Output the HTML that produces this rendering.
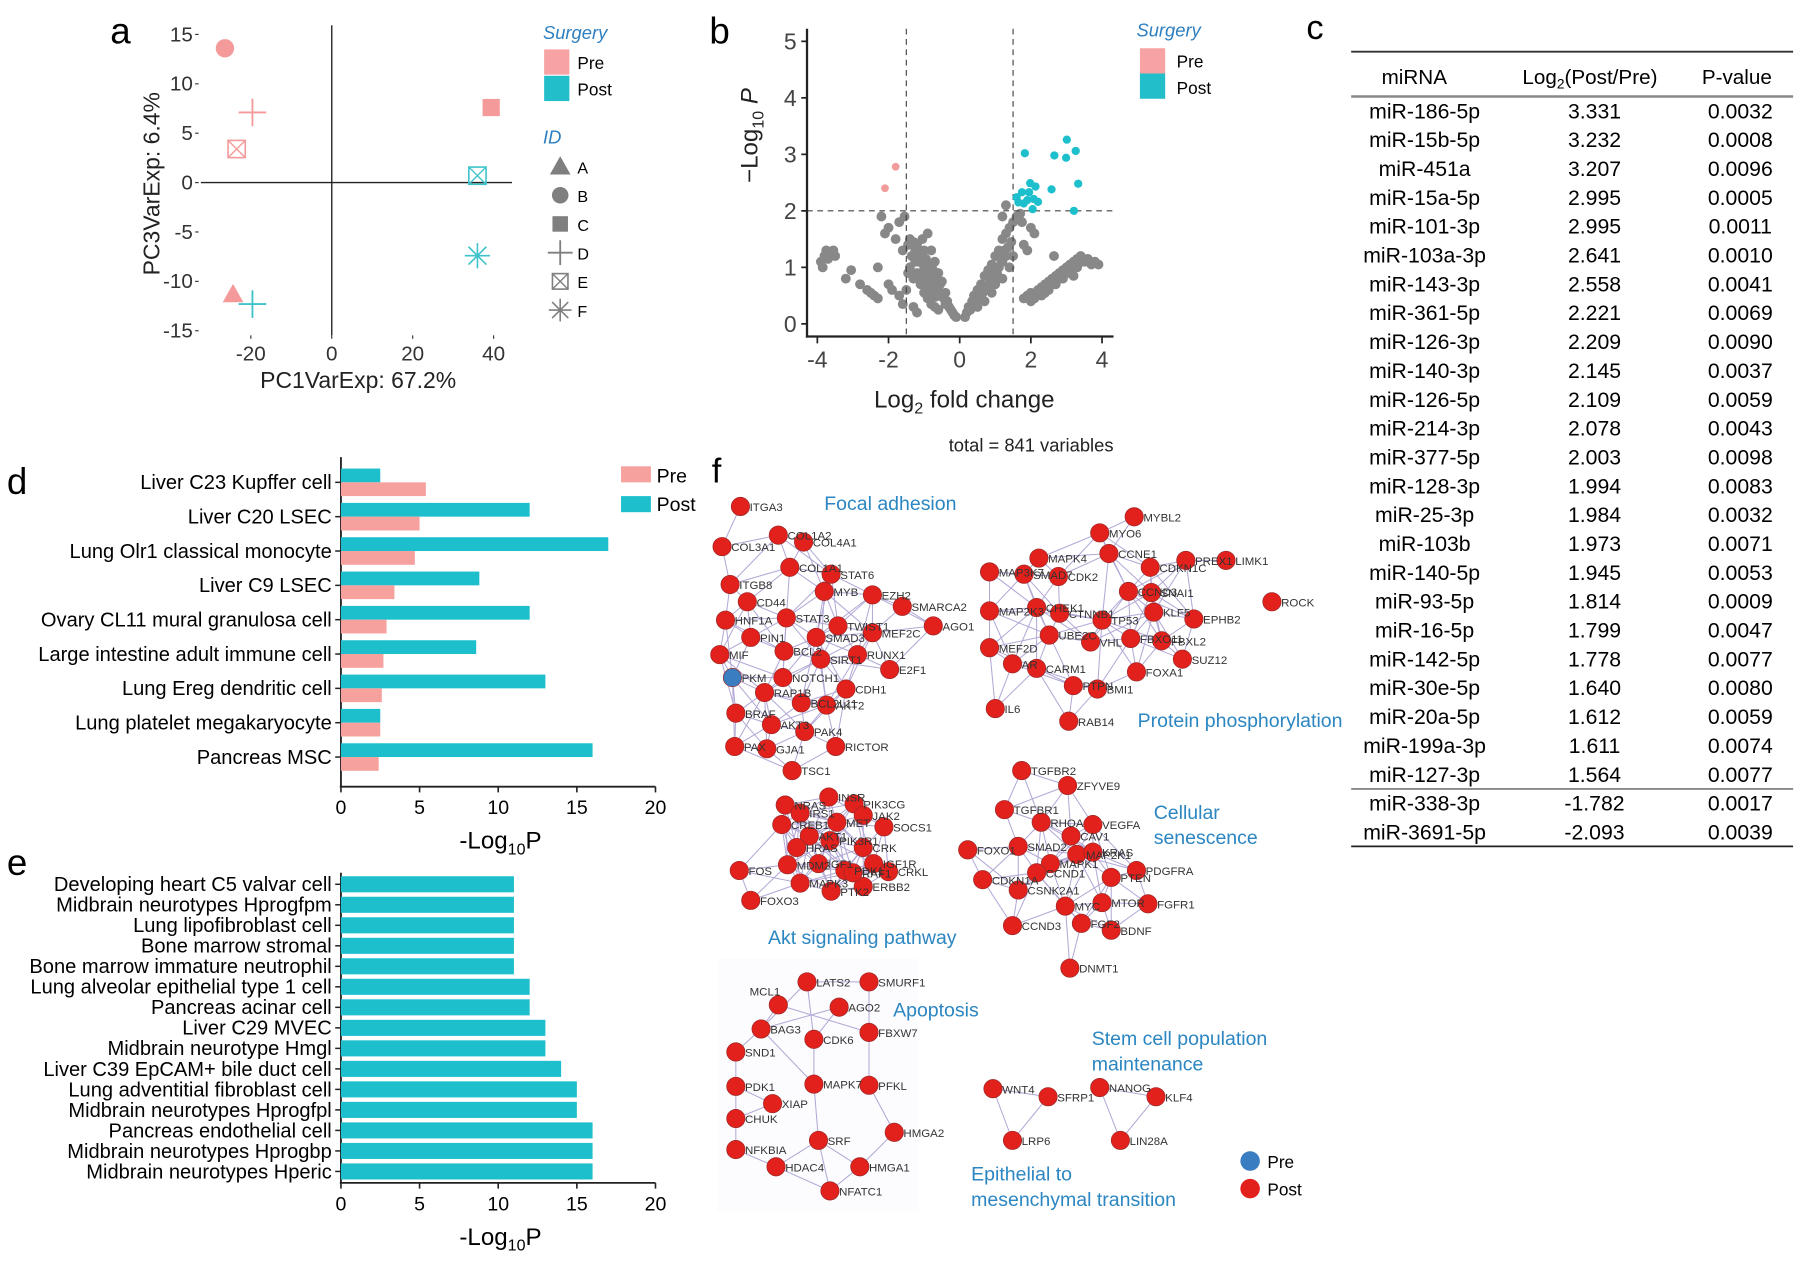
<!DOCTYPE html>
<html><head><meta charset="utf-8">
<style>
html,body{margin:0;padding:0;background:#fff;}
svg{display:block;font-family:"Liberation Sans",Arial,sans-serif;}
</style></head>
<body>
<svg id="fig" width="1800" height="1269" viewBox="0 0 1568 1105" preserveAspectRatio="none" xmlns="http://www.w3.org/2000/svg">
<rect width="1568" height="1105" fill="#fff"/>
<g id="pa"></g>
<g id="pb"></g>
<g id="pc"></g>
<g id="pd"></g>
<g id="pe"></g>
<g id="pf"></g>
</svg>
<script>
const NS="http://www.w3.org/2000/svg";
const PINK="#F6A19E",CYAN="#1DBFCD";
function mk(parent,tag,attrs,text){const e=document.createElementNS(NS,tag);for(const k in attrs)e.setAttribute(k,attrs[k]);if(text!==undefined)e.textContent=text;parent.appendChild(e);return e;}

// ---------- Panel a data ----------
const pcaX=[-26.4,-19.6,-23.5,39.4,36,36,-24.4,-19.6];
const pcaY=[13.6,7.1,3.4,7.6,0.7,-7.4,-11.3,-12.3];
const pcaGroup=["Pre","Pre","Pre","Pre","Post","Post","Pre","Post"];
const pcaShape=["B","D","E","C","E","F","A","D"];
const pcaXTicks=[-20,0,20,40];
const pcaYTicks=[15,10,5,0,-5,-10,-15];
// ---------- Panel b data ----------
const volGrayX=[-3.9,-3.85,-3.8,-3.75,-3.7,-3.6,-3.55,-3.5,-3.2,-3.05,-2.8,-2.6,-2.5,-2.4,-2.3,-2.3,-2.2,-2.1,-2.0,-2.0,-1.9,-1.8,-1.7,-1.7,-1.6,-1.6,-1.55,-1.5,-1.45,-1.3,-1.2,
-1.4,-1.3,-1.35,-1.25,-1.2,-1.15,-1.1,-1.05,-1.0,-1.0,-0.95,-0.9,-0.9,-0.85,-0.8,-0.8,-0.75,-0.7,-0.7,-0.65,-0.6,-0.6,-0.55,-0.5,-0.5,-0.45,-0.4,-0.4,-0.35,-0.3,-0.25,-0.2,-0.15,-0.1,-1.2,-1.1,-1.0,-0.9,-0.8,-0.7,-0.6,-1.3,-1.4,-1.45,
-1.15,-1.05,-0.95,-0.85,-0.75,-0.65,-0.55,-1.25,-1.1,-0.98,-0.88,-0.78,-0.68,
0.15,0.2,0.25,0.3,0.35,0.4,0.45,0.5,0.55,0.6,0.65,0.7,0.75,0.8,0.85,0.9,0.95,1.0,1.05,1.1,1.1,1.2,1.2,1.3,1.3,1.35,1.4,1.4,1.45,1.5,1.5,1.6,1.7,1.75,1.8,1.9,2.0,2.1,1.3,1.2,0.5,0.7,0.9,1.0,1.2,
0.6,0.8,0.95,1.05,1.15,0.7,0.85,1.25,
1.8,1.9,2.0,2.1,2.2,2.3,2.3,2.4,2.5,2.5,2.6,2.7,2.7,2.8,2.9,2.9,3.0,3.1,3.1,3.2,3.3,3.3,3.4,3.5,3.6,3.7,3.8,3.9,2.65,3.2,2.4,2.0,
2.55,2.75,2.95,3.15,3.35,3.55];
const volGrayY=[1.1,1.0,1.2,1.3,1.15,1.25,1.3,1.2,0.8,0.95,0.7,0.6,0.55,0.5,0.45,1.0,1.9,1.6,1.7,0.7,0.6,1.5,1.8,0.5,1.3,0.35,1.9,0.6,1.4,0.3,0.2,
1.5,1.45,1.2,1.3,1.4,1.1,1.25,1.5,1.3,1.0,1.15,1.6,0.9,1.05,1.3,0.8,0.95,0.7,1.1,0.8,0.6,0.9,0.7,0.5,0.75,0.45,0.55,0.35,0.4,0.3,0.25,0.2,0.15,0.12,0.9,0.7,0.55,0.45,0.35,0.3,0.25,0.8,1.0,0.9,
1.2,1.1,0.95,0.85,0.75,0.62,0.52,1.1,0.85,0.75,0.65,0.55,0.48,
0.12,0.2,0.3,0.25,0.4,0.5,0.35,0.6,0.45,0.7,0.55,0.85,0.6,0.95,0.75,1.05,0.8,1.2,0.9,1.3,1.0,1.5,1.1,1.6,1.2,1.35,1.7,1.0,1.45,1.8,1.2,1.9,1.95,1.8,1.4,1.3,1.7,1.6,2.1,1.9,0.3,0.4,0.55,0.7,0.8,
0.5,0.65,0.9,1.0,1.15,0.6,0.85,1.3,
0.45,0.5,0.55,0.45,0.6,0.5,0.65,0.7,0.6,0.75,0.8,0.7,0.85,0.9,0.8,0.95,1.0,0.9,1.05,1.1,1.0,1.15,1.2,1.1,1.15,1.05,1.1,1.05,1.2,0.85,0.55,0.4,
0.68,0.78,0.88,0.98,1.08,1.13];
const volPreX=[-2.1,-1.8];
const volPreY=[2.4,2.78];
const volPostX=[1.83,3.01,3.26,2.66,2.99,3.33,2.58,3.21,1.6,1.75,1.98,2.13,1.9,2.2,2.05,1.8,1.65,1.95,2.08];
const volPostY=[3.02,3.26,3.06,2.98,2.94,2.48,2.38,2.0,2.24,2.33,2.49,2.43,2.19,2.16,2.03,2.13,2.15,2.33,2.21];
const volXTicks=[-4,-2,0,2,4];
const volYTicks=[0,1,2,3,4,5];
// ---------- Panel c data ----------
const tblMirna=["miR-186-5p","miR-15b-5p","miR-451a","miR-15a-5p","miR-101-3p","miR-103a-3p","miR-143-3p","miR-361-5p","miR-126-3p","miR-140-3p","miR-126-5p","miR-214-3p","miR-377-5p","miR-128-3p","miR-25-3p","miR-103b","miR-140-5p","miR-93-5p","miR-16-5p","miR-142-5p","miR-30e-5p","miR-20a-5p","miR-199a-3p","miR-127-3p","miR-338-3p","miR-3691-5p"];
const tblLog=["3.331","3.232","3.207","2.995","2.995","2.641","2.558","2.221","2.209","2.145","2.109","2.078","2.003","1.994","1.984","1.973","1.945","1.814","1.799","1.778","1.640","1.612","1.611","1.564","-1.782","-2.093"];
const tblP=["0.0032","0.0008","0.0096","0.0005","0.0011","0.0010","0.0041","0.0069","0.0090","0.0037","0.0059","0.0043","0.0098","0.0083","0.0032","0.0071","0.0053","0.0009","0.0047","0.0077","0.0080","0.0059","0.0074","0.0077","0.0017","0.0039"];
// ---------- Panel d data ----------
const dCats=["Liver C23 Kupffer cell","Liver C20 LSEC","Lung Olr1 classical monocyte","Liver C9 LSEC","Ovary CL11 mural granulosa cell","Large intestine adult immune cell","Lung Ereg dendritic cell","Lung platelet megakaryocyte","Pancreas MSC"];
const dPost=[2.5,12,17,8.8,12,8.6,13,2.5,16];
const dPre=[5.4,5,4.7,3.4,2.9,2.7,2.6,2.5,2.4];
const barTicks=[0,5,10,15,20];
// ---------- Panel e data ----------
const eCats=["Developing heart C5 valvar cell","Midbrain neurotypes Hprogfpm","Lung lipofibroblast cell","Bone marrow stromal","Bone marrow immature neutrophil","Lung alveolar epithelial type 1 cell","Pancreas acinar cell","Liver C29 MVEC","Midbrain neurotype Hmgl","Liver C39 EpCAM+ bile duct cell","Lung adventitial fibroblast cell","Midbrain neurotypes Hprogfpl","Pancreas endothelial cell","Midbrain neurotypes Hprogbp","Midbrain neurotypes Hperic"];
const eVals=[11,11,11,11,11,12,12,13,13,14,15,15,16,16,16];

// ===== Panel a =====
(function(){
 const g=document.getElementById('pa');
 const sx=v=>289+v*3.525, sy=v=>159-v*8.6;
 mk(g,'text',{x:96,y:38,'font-size':32,},'a');
 mk(g,'line',{x1:175,y1:sy(0),x2:446,y2:sy(0),stroke:'#222','stroke-width':1.2,});
 mk(g,'line',{x1:sx(0),y1:22,x2:sx(0),y2:292,stroke:'#222','stroke-width':1.2,});
 pcaYTicks.forEach(t=>{mk(g,'text',{x:168,y:sy(t)+6,'font-size':18,'text-anchor':'end',fill:'#333',},t);
   mk(g,'line',{x1:170,x2:173,y1:sy(t),y2:sy(t),stroke:'#333',});});
 pcaXTicks.forEach(t=>{mk(g,'text',{x:sx(t),y:314,'font-size':18,'text-anchor':'middle',fill:'#333',},t);
   mk(g,'line',{x1:sx(t),x2:sx(t),y1:292,y2:295,stroke:'#333',});});
 mk(g,'text',{x:312,y:338,'font-size':20,'text-anchor':'middle',fill:'#222',},'PC1VarExp: 67.2%');
 mk(g,'text',{x:0,y:0,'font-size':20,'text-anchor':'middle',fill:'#222',transform:'translate(139,160) rotate(-90)',},'PC3VarExp: 6.4%');
 function shape(par,s,x,y,c,sz,nm){
  const gg=mk(par,'g',{});
  if(s==='A')mk(gg,'polygon',{points:`${x},${y-9} ${x+9},${y+7} ${x-9},${y+7}`,fill:c});
  if(s==='B')mk(gg,'circle',{cx:x,cy:y,r:sz*0.8,fill:c});
  if(s==='C')mk(gg,'rect',{x:x-sz*0.75,y:y-sz*0.75,width:sz*1.5,height:sz*1.5,fill:c});
  if(s==='D'){mk(gg,'line',{x1:x-sz*1.2,x2:x+sz*1.2,y1:y,y2:y,stroke:c,'stroke-width':1.6});mk(gg,'line',{x1:x,x2:x,y1:y-sz*1.2,y2:y+sz*1.2,stroke:c,'stroke-width':1.6});}
  if(s==='E'){const h=sz*0.75;mk(gg,'rect',{x:x-h,y:y-h,width:2*h,height:2*h,fill:'none',stroke:c,'stroke-width':1.4});mk(gg,'line',{x1:x-h,y1:y-h,x2:x+h,y2:y+h,stroke:c,'stroke-width':1.2});mk(gg,'line',{x1:x+h,y1:y-h,x2:x-h,y2:y+h,stroke:c,'stroke-width':1.2});}
  if(s==='F'){for(let k=0;k<4;k++){const a=k*Math.PI/4,r=sz*1.1;mk(gg,'line',{x1:x-r*Math.cos(a),y1:y-r*Math.sin(a),x2:x+r*Math.cos(a),y2:y+r*Math.sin(a),stroke:c,'stroke-width':1.4});}}
  return gg;
 }
 pcaX.forEach((v,i)=>{const c=pcaGroup[i]==='Pre'?'#F59A9A':'#3EC3CB';
   const p=shape(g,pcaShape[i],sx(v),sy(pcaY[i]),c,10,'pca-point');
   });
 mk(g,'text',{x:473,y:34,'font-size':16,'font-style':'italic',fill:'#2E7FC0',},'Surgery');
 mk(g,'rect',{x:474,y:43,width:22,height:22,fill:'#F8A3A3',});
 mk(g,'text',{x:503,y:60,'font-size':15,},'Pre');
 mk(g,'rect',{x:474,y:66,width:22,height:22,fill:'#22BFCB',});
 mk(g,'text',{x:503,y:83,'font-size':15,},'Post');
 mk(g,'text',{x:473,y:125,'font-size':16,'font-style':'italic',fill:'#2E7FC0',},'ID');
 ["A","B","C","D","E","F"].forEach((s,i)=>{const y=145+i*25;shape(g,s,488,y,'#7f7f7f',9,'legend-shape-'+s.toLowerCase());
   mk(g,'text',{x:503,y:y+6,'font-size':14,},s);});
})();

// ===== Panel b =====
(function(){
 const g=document.getElementById('pb');
 const sx=v=>836+v*31, sy=v=>282-v*49.2;
 mk(g,'text',{x:618,y:38,'font-size':32,},'b');
 volGrayX.forEach((v,i)=>{const c=mk(g,'circle',{cx:sx(v),cy:sy(volGrayY[i]),r:4.3,fill:'#888'});
  
  });
 mk(g,'line',{x1:sx(-1.5),x2:sx(-1.5),y1:25,y2:293,stroke:'#444','stroke-dasharray':'5,4',});
 mk(g,'line',{x1:sx(1.5),x2:sx(1.5),y1:25,y2:293,stroke:'#444','stroke-dasharray':'5,4',});
 mk(g,'line',{x1:703,x2:970,y1:sy(2),y2:sy(2),stroke:'#444','stroke-dasharray':'5,4',});
 volPreX.forEach((v,i)=>{const c=mk(g,'circle',{cx:sx(v),cy:sy(volPreY[i]),r:3.4,fill:'#F19C9C'});
  
  });
 volPostX.forEach((v,i)=>{const c=mk(g,'circle',{cx:sx(v),cy:sy(volPostY[i]),r:3.6,fill:'#1CBFCB'});
  
  });
 mk(g,'line',{x1:703,x2:703,y1:25,y2:294,stroke:'#222','stroke-width':2,});
 mk(g,'line',{x1:702,x2:970,y1:293,y2:293,stroke:'#222','stroke-width':2,});
 volYTicks.forEach(t=>{mk(g,'line',{x1:698,x2:703,y1:sy(t),y2:sy(t),stroke:'#222','stroke-width':1.5,});
   mk(g,'text',{x:694,y:sy(t)+7,'font-size':20,'text-anchor':'end',fill:'#444',},t);});
 volXTicks.forEach(t=>{mk(g,'line',{x1:sx(t),x2:sx(t),y1:293,y2:299,stroke:'#222','stroke-width':1.5,});
   mk(g,'text',{x:sx(t),y:320,'font-size':20,'text-anchor':'middle',fill:'#444',},t);});
 const xt=mk(g,'text',{x:840,y:355,'font-size':21,'text-anchor':'middle',fill:'#222',});
 xt.innerHTML='Log<tspan font-size="14" dy="5">2</tspan><tspan dy="-5"> fold change</tspan>';
 const yt=mk(g,'text',{x:0,y:0,'font-size':21,'text-anchor':'middle',fill:'#222',transform:'translate(660,118) rotate(-90)',});
 yt.innerHTML='\u2212Log<tspan font-size="14" dy="5">10</tspan><tspan dy="-5" font-style="italic"> P</tspan>';
 mk(g,'text',{x:970,y:393,'font-size':16,'text-anchor':'end',fill:'#222',},'total = 841 variables');
 mk(g,'text',{x:990,y:32,'font-size':16,'font-style':'italic',fill:'#2E7FC0',},'Surgery');
 mk(g,'rect',{x:993,y:42,width:22,height:22,fill:'#F8A3A3',});
 mk(g,'text',{x:1025,y:59,'font-size':15,},'Pre');
 mk(g,'rect',{x:993,y:64,width:22,height:22,fill:'#22BFCB',});
 mk(g,'text',{x:1025,y:82,'font-size':15,},'Post');
})();

// ===== Panel c =====
(function(){
 const g=document.getElementById('pc');
 mk(g,'text',{x:1138,y:34,'font-size':30,},'c');
 mk(g,'line',{x1:1177,x2:1562,y1:45,y2:45,stroke:'#333','stroke-width':1.6,});
 mk(g,'text',{x:1232,y:73,'font-size':18,'text-anchor':'middle',},'miRNA');
 const h2=mk(g,'text',{x:1385,y:73,'font-size':18,'text-anchor':'middle',});
 h2.innerHTML='Log<tspan font-size="12" dy="4">2</tspan><tspan dy="-4">(Post/Pre)</tspan>';
 mk(g,'text',{x:1513,y:73,'font-size':18,'text-anchor':'middle',},'P-value');
 mk(g,'line',{x1:1177,x2:1562,y1:84,y2:84,stroke:'#888','stroke-width':2.2,});
 tblMirna.forEach((m,i)=>{const y=103+i*25.12;
  mk(g,'text',{x:1241,y:y,'font-size':18.5,'text-anchor':'middle',},m);
  mk(g,'text',{x:1389,y:y,'font-size':18.5,'text-anchor':'middle',},tblLog[i]);
  mk(g,'text',{x:1516,y:y,'font-size':18.5,'text-anchor':'middle',},tblP[i]);});
 mk(g,'line',{x1:1177,x2:1562,y1:687,y2:687,stroke:'#777','stroke-width':1.4,});
 mk(g,'line',{x1:1177,x2:1562,y1:737,y2:737,stroke:'#222','stroke-width':1.6,});
})();

// ===== Panel d & e bars =====
function barAxis(g,y0,ytop){
 const sx=v=>297+v*13.7;
 mk(g,'line',{x1:297,x2:297,y1:ytop,y2:y0,stroke:'#222','stroke-width':1.6,});
 mk(g,'line',{x1:296,x2:571,y1:y0,y2:y0,stroke:'#222','stroke-width':1.6,});
 barTicks.forEach(t=>{mk(g,'line',{x1:sx(t),x2:sx(t),y1:y0,y2:y0+5,stroke:'#222','stroke-width':1.4,});
  mk(g,'text',{x:sx(t),y:y0+24,'font-size':17,'text-anchor':'middle',},t);});
 const t=mk(g,'text',{x:436,y:y0+54,'font-size':21,'text-anchor':'middle',});
 t.innerHTML='-Log<tspan font-size="14" dy="5">10</tspan><tspan dy="-5">P</tspan>';
 return sx;
}
(function(){
 const g=document.getElementById('pd');
 mk(g,'text',{x:6,y:430,'font-size':32,},'d');
 const sx=barAxis(g,685,398);
 dCats.forEach((c,i)=>{const y=420+i*29.9;
  const b1=mk(g,'rect',{x:297,y:y-12,width:sx(dPost[i])-297,height:12,fill:CYAN});
  
  
  const b2=mk(g,'rect',{x:297,y:y,width:sx(dPre[i])-297,height:12,fill:PINK});
  
  
  mk(g,'line',{x1:292,x2:297,y1:y,y2:y,stroke:'#222','stroke-width':1.3,});
  mk(g,'text',{x:289,y:y+6,'font-size':17.5,'text-anchor':'end',},c);});
 mk(g,'rect',{x:541,y:406,width:26,height:14,fill:PINK,});
 mk(g,'text',{x:572,y:420,'font-size':17,},'Pre');
 mk(g,'rect',{x:541,y:432,width:26,height:14,fill:CYAN,});
 mk(g,'text',{x:572,y:445,'font-size':17,},'Post');
})();
(function(){
 const g=document.getElementById('pe');
 mk(g,'text',{x:6,y:762,'font-size':32,},'e');
 const sx=barAxis(g,1030,760);
 eCats.forEach((c,i)=>{const y=770+i*17.86;
  const b=mk(g,'rect',{x:297,y:y-7,width:sx(eVals[i])-297,height:14,fill:CYAN});
  
  
  mk(g,'line',{x1:292,x2:297,y1:y,y2:y,stroke:'#222','stroke-width':1.3,});
  mk(g,'text',{x:289,y:y+6,'font-size':17.5,'text-anchor':'end',},c);});
})();

// ===== Panel f network =====
const netNodes=[
[0,"ITGA3",645,441],[0,"COL1A2",678,466],[0,"COL4A1",700,472],[0,"COL3A1",629,476],[0,"COL1A1",688,494],[0,"STAT6",724,500],[0,"ITGB8",636,509],[0,"MYB",718,515],[0,"EZH2",760,518],[0,"SMARCA2",786,528],[0,"CD44",651,524],[0,"STAT3",685,538],[0,"TWIST1",730,545],[0,"AGO1",813,545],[0,"HNF1A",632,540],[0,"PIN1",654,555],[0,"SMAD3",711,555],[0,"MEF2C",760,551],[0,"BCL2",683,567],[0,"SIRT1",715,574],[0,"RUNX1",747,570],[0,"E2F1",775,583],[0,"MIF",627,570],[0,"PKM",638,590],[0,"NOTCH1",682,590],[0,"CDH1",737,600],[0,"RAP1B",666,603],[0,"BCL2L11",698,612],[0,"BRAF",641,621],[0,"AKT2",720,614],[0,"AKT3",672,631],[0,"PAK4",701,637],[0,"PAX",640,650],[0,"GJA1",668,652],[0,"RICTOR",728,650],[0,"TSC1",690,671],
[1,"MYBL2",988,450],[1,"MYO6",958,464],[1,"CCNE1",966,482],[1,"MAPK4",905,486],[1,"CDKN1C",1002,494],[1,"PREX1",1033,488],[1,"LIMK1",1068,488],[1,"MAP3K7",862,498],[1,"SMAD7",892,500],[1,"CDK2",922,502],[1,"CCND3",983,515],[1,"SNAI1",1003,516],[1,"ROCK",1108,524],[1,"CHEK1",903,529],[1,"MAP2K3",862,532],[1,"CTNNB1",923,534],[1,"TP53",960,540],[1,"KLF5",1005,533],[1,"EPHB2",1040,539],[1,"UBE2C",914,553],[1,"MEF2D",862,564],[1,"VHL",950,559],[1,"FBXO11",985,556],[1,"FBXL2",1012,558],[1,"SUZ12",1030,574],[1,"AR",882,578],[1,"CARM1",903,582],[1,"FOXA1",990,585],[1,"PTPN",935,597],[1,"BMI1",956,600],[1,"IL6",867,617],[1,"RAB14",931,628],
[2,"NRAS",684,701],[2,"INSR",722,694],[2,"PIK3CG",744,700],[2,"IRS1",697,708],[2,"JAK2",752,710],[2,"CREB1",681,718],[2,"MET",729,716],[2,"SOCS1",770,720],[2,"AKT1",705,728],[2,"PIK3R1",723,732],[2,"HRAS",694,738],[2,"CRK",752,738],[2,"MDM2",686,753],[2,"IGF1",713,752],[2,"PDK1",736,758],[2,"IGF1R",761,752],[2,"CRKL",774,759],[2,"FOS",644,758],[2,"MAPK3",697,769],[2,"PTK2",724,776],[2,"ERBB2",752,772],[2,"FOXO3",654,784],[2,"RAF1",743,760],
[3,"TGFBR2",890,671],[3,"ZFYVE9",930,684],[3,"TGFBR1",875,705],[3,"RHOA",907,716],[3,"VEGFA",952,718],[3,"CAV1",933,728],[3,"SMAD2",887,737],[3,"FOXO1",843,740],[3,"MAPK1",915,752],[3,"MAP2K1",938,744],[3,"KRAS",952,742],[3,"PDGFRA",990,758],[3,"PTEN",968,764],[3,"CDKN1A",856,766],[3,"CSNK2A1",887,775],[3,"MTOR",960,786],[3,"MYC",928,789],[3,"FGFR1",1000,787],[3,"FGF2",942,804],[3,"CCND3",882,806],[3,"BDNF",968,810],[3,"DNMT1",932,843],[3,"CCND1",903,760]
];
const apopNodes=[["LATS2",703,855],["SMURF1",757,855],["MCL1",678,875],["AGO2",731,877],["BAG3",663,896],["FBXW7",757,899],["CDK6",709,905],["SND1",641,916],["MAPK7",709,944],["PFKL",757,945],["PDK1",641,946],["XIAP",673,961],["CHUK",641,974],["HMGA2",779,986],["SRF",713,993],["NFKBIA",641,1001],["HDAC4",676,1016],["HMGA1",749,1016],["NFATC1",723,1037],
 ["WNT4",865,948],["SFRP1",913,955],["NANOG",958,947],["KLF4",1007,955],["LRP6",882,993],["LIN28A",976,993]];
const apopEdges=[[0,1],[0,4],[0,6],[2,4],[2,5],[3,4],[1,5],[5,9],[6,8],[4,7],[4,8],[7,10],[10,11],[10,12],[11,12],[12,15],[15,16],[8,14],[14,16],[14,17],[14,18],[16,18],[17,18],[17,13],[13,9],[3,6],
 [19,20],[19,23],[20,23],[21,22],[21,24],[22,24]];
(function(){
 const g=document.getElementById('pf');
 mk(g,'text',{x:620,y:420,'font-size':30,},'f');
 mk(g,'rect',{x:625,y:835,width:175,height:220,fill:'#fcfcfe',});
 const eg=mk(g,'g',{stroke:'#9a8cc8','stroke-width':0.9,opacity:0.75,});
 for(let i=0;i<netNodes.length;i++)for(let j=i+1;j<netNodes.length;j++){
  const a=netNodes[i],b=netNodes[j];if(a[0]!==b[0])continue;
  const d=Math.hypot(a[2]-b[2],a[3]-b[3]);
  const lim=a[0]===2?55:(a[0]===3?60:62);
  if(d<lim&&((i*7+j*3)%3!==0||d<40)){const l=mk(eg,'line',{x1:a[2],y1:a[3],x2:b[2],y2:b[3]});
   
   }
 }
 apopEdges.forEach(e=>{const a=apopNodes[e[0]],b=apopNodes[e[1]];
  const l=mk(eg,'line',{x1:a[1],y1:a[2],x2:b[1],y2:b[2]});
  
  });
 const all=netNodes.map(n=>[n[1],n[2],n[3]]).concat(apopNodes);
 all.forEach(n=>{const nd=mk(g,'circle',{cx:n[1],cy:n[2],r:8,fill:n[0]==='PKM'?'#3A7DC0':'#E2201C',stroke:'#9a2a2a','stroke-width':0.6});
  
  });
 all.forEach(n=>{const isM=n[0]==='MCL1';
  mk(g,'text',{x:isM?n[1]-25:n[1]+8,y:isM?n[2]-8:n[2]+4,'font-size':10,fill:'#333',},n[0]);});
 const ttl=[["Focal adhesion",718,444],["Protein phosphorylation",991,633],["Cellular",1005,713],["senescence",1005,735],["Akt signaling pathway",669,822],["Apoptosis",778,885],["Stem cell population",951,910],["maintenance",951,932],["Epithelial to",846,1028],["mesenchymal transition",846,1050]];
 ttl.forEach(t=>mk(g,'text',{x:t[1],y:t[2],'font-size':17,fill:'#2B86C2',},t[0]));
 mk(g,'circle',{cx:1089,cy:1011,r:8.5,fill:'#3A7DC0',});
 mk(g,'text',{x:1104,y:1017,'font-size':15,},'Pre');
 mk(g,'circle',{cx:1089,cy:1035,r:8.5,fill:'#E2201C',});
 mk(g,'text',{x:1104,y:1041,'font-size':15,},'Post');
})();
</script>
</body></html>
